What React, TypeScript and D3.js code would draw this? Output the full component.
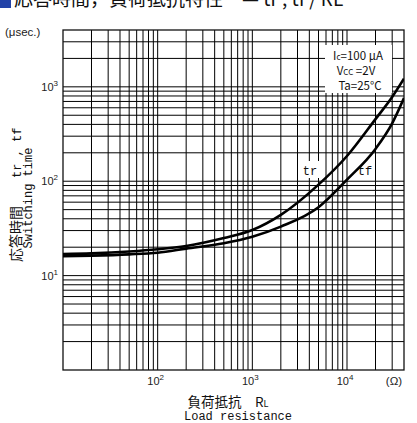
import React from "react";
import * as d3 from "d3";

const resistance = [10, 20, 50, 100, 200, 500, 1000, 2000, 5000, 10000, 20000, 30000, 40000];
const trValues = [16.9, 17.2, 18.0, 19.0, 20.6, 25.0, 30.4, 44, 92, 185, 455, 780, 1220];
const tfValues = [16.1, 16.3, 16.8, 17.5, 19.3, 22.0, 25.8, 33, 53, 104, 220, 410, 760];
const xTicks = [100, 1000, 10000];
const yTicks = [10, 100, 1000];
const conditions = ["Ic=100 μA", "Vcc =2V", "Ta=25°C"];

const W = 417, H = 423;
const M = { left: 63, right: 404, top: 30, bottom: 370 };

function gridValues(min: number, max: number) {
  const out: number[] = [];
  for (let e = -1; e <= 6; e++) {
    for (let m = 1; m <= 9; m++) {
      const v = m * Math.pow(10, e);
      if (v > min * 1.0001 && v < max * 0.9999) out.push(v);
    }
  }
  return out;
}

export default function App() {
  const x = d3.scaleLog().domain([10, 40000]).range([M.left, M.right]);
  const y = d3.scaleLog().domain([1, 4000]).range([M.bottom, M.top]);
  const line = d3
    .line<number>()
    .x((_, i) => x(resistance[i]))
    .y((d) => y(d))
    .curve(d3.curveMonotoneX);
  const vx = gridValues(10, 40000);
  const hy = gridValues(1, 4000);
  const sans = "'Liberation Sans', Arial, sans-serif";
  const jp = "'Noto Sans CJK JP', sans-serif";
  const mono = "'Liberation Mono', 'Noto Sans CJK JP', monospace";
  return (
    <svg width={W} height={H} style={{ position: "absolute", left: 0, top: 0, background: "#fff" }}>
      <defs>
        <clipPath id="plot">
          <rect x={M.left} y={M.top} width={M.right - M.left} height={M.bottom - M.top} />
        </clipPath>
      </defs>
      <rect x={0} y={0} width={W} height={H} fill="#fff" />
      {/* clipped title */}
      <rect x={0} y={-8} width={11} height={16} fill="#2343a8" />
      <text x={14} y={6} fontFamily={jp} fontSize={19} fill="#111">
        応答時間，負荷抵抗特性　— tr , tf / RL
      </text>
      {/* grid */}
      <g stroke="#000" strokeWidth={1}>
        {vx.map((v) => (
          <line key={"v" + v} x1={x(v)} x2={x(v)} y1={M.top} y2={M.bottom} />
        ))}
        {hy.map((v) => (
          <line key={"h" + v} y1={y(v)} y2={y(v)} x1={M.left} x2={M.right} />
        ))}
      </g>
      <rect x={M.left} y={M.top} width={M.right - M.left} height={M.bottom - M.top} fill="none" stroke="#111" strokeWidth={1.3} />
      {/* condition box */}
      <rect x={325} y={45} width={67} height={48} fill="#fff" />
      <g fontFamily={jp} fontSize={11.5} fill="#111" textAnchor="middle">
        <text x={358} y={60}>
          I<tspan fontSize={8}>c</tspan>=100 μA
        </text>
        <text x={356} y={75}>
          V<tspan fontSize={8}>CC</tspan> =2V
        </text>
        <text x={360} y={90}>{conditions[2]}</text>
      </g>
      {/* labels boxes */}
      <rect x={302} y={161} width={17} height={17} fill="#fff" />
      <rect x={356} y={161} width={17} height={17} fill="#fff" />
      <g clipPath="url(#plot)" fill="none" stroke="#000" strokeWidth={2.6}>
        <path d={line(trValues) || ""} />
        <path d={line(tfValues) || ""} />
      </g>
      <g fontFamily={mono} fontSize={12} fill="#111" textAnchor="middle">
        <text x={310} y={175}>tr</text>
        <text x={365} y={175}>tf</text>
      </g>
      {/* y ticks */}
      <g fontFamily={sans} fontSize={11} fill="#222" textAnchor="end">
        {yTicks.map((v) => (
          <text key={v} x={58} y={y(v) + 4}>
            10<tspan fontSize={8} dy={-5}>{Math.round(Math.log10(v))}</tspan>
          </text>
        ))}
      </g>
      <text x={5} y={36} fontFamily={sans} fontSize={11.5} fill="#222">(μsec.)</text>
      {/* x ticks */}
      <g fontFamily={sans} fontSize={11} fill="#222" textAnchor="middle">
        {xTicks.map((v) => (
          <text key={v} x={x(v) - 2} y={385}>
            10<tspan fontSize={8} dy={-5}>{Math.round(Math.log10(v))}</tspan>
          </text>
        ))}
      </g>
      <text x={394} y={385} fontFamily={sans} fontSize={11.5} fill="#222" textAnchor="middle">(Ω)</text>
      {/* x title */}
      <text x={228} y={407} fontFamily={jp} fontSize={13.5} fill="#111" textAnchor="middle">
        負荷抵抗　R<tspan fontSize={9}>L</tspan>
      </text>
      <text x={238} y={420} fontFamily={mono} fontSize={12} fill="#111" textAnchor="middle">
        Load resistance
      </text>
      {/* y title */}
      <g transform="translate(21,0) rotate(-90)">
        <text x={-262} y={0} fontFamily={jp} fontSize={14} fill="#111">
          応答時間
        </text>
        <text x={-178} y={0} fontFamily={mono} fontSize={12} fill="#111">
          tr , tf
        </text>
      </g>
      <g transform="translate(32,0) rotate(-90)">
        <text x={-198} y={0} fontFamily={mono} fontSize={12} fill="#111" textAnchor="middle">
          Switching time
        </text>
      </g>
    </svg>
  );
}
